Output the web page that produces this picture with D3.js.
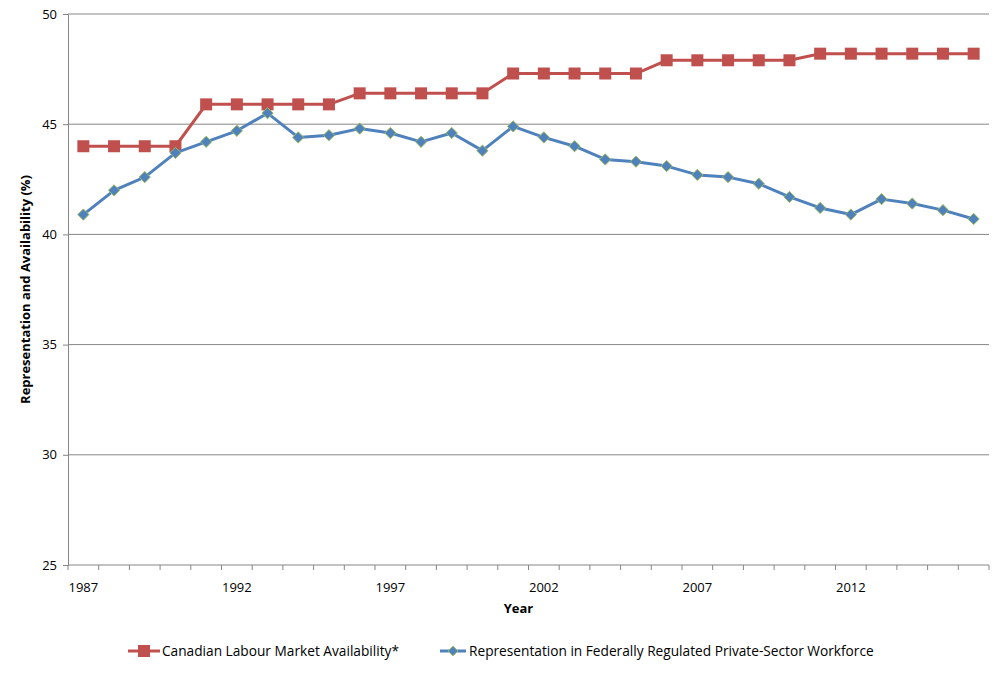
<!DOCTYPE html>
<html>
<head>
<meta charset="utf-8">
<script src="https://cdn.jsdelivr.net/npm/d3@7"></script>
<style>
  body { margin: 0; background: #fff; }
  text { font-family: "Open Sans", "Liberation Sans", sans-serif; fill: #000; }
</style>
</head>
<body>
<svg width="1005" height="673"></svg>
<script>
// data
const years = d3.range(1987, 2017)
const availability = [44.0, 44.0, 44.0, 44.0, 45.9, 45.9, 45.9, 45.9, 45.9, 46.4,
  46.4, 46.4, 46.4, 46.4, 47.3, 47.3, 47.3, 47.3, 47.3, 47.9,
  47.9, 47.9, 47.9, 47.9, 48.2, 48.2, 48.2, 48.2, 48.2, 48.2]
const representation = [40.9, 42.0, 42.6, 43.7, 44.2, 44.7, 45.5, 44.4, 44.5, 44.8,
  44.6, 44.2, 44.6, 43.8, 44.9, 44.4, 44.0, 43.4, 43.3, 43.1,
  42.7, 42.6, 42.3, 41.7, 41.2, 40.9, 41.6, 41.4, 41.1, 40.7]
const yTicks = [25, 30, 35, 40, 45, 50]
const xLabelYears = [1987, 1992, 1997, 2002, 2007, 2012]
const seriesNames = ["Canadian Labour Market Availability*", "Representation in Federally Regulated Private-Sector Workforce"]

let margin = { top: 14, left: 68, right: 16, bottom: 108 }
let width = 1005 - margin.left - margin.right
let height = 673 - margin.top - margin.bottom

let svg = d3.select("svg")
let g = svg.append("g").attr("transform", "translate(" + margin.left + "," + margin.top + ")")

let x = d3.scaleBand().domain(years).range([0, width])
let y = d3.scaleLinear().domain([25, 50]).range([height, 0])

// gridlines
g.selectAll(".grid").data(yTicks.filter(d => d > 25)).enter().append("line")
  .attr("x1", 0).attr("x2", width)
  .attr("y1", d => y(d)).attr("y2", d => y(d))
  .attr("stroke", "#868686").attr("stroke-width", 1)

// y axis
let yAxis = g.append("g")
  .call(d3.axisLeft(y).tickValues(yTicks).tickSize(5).tickPadding(6))
yAxis.select(".domain").attr("stroke", "#868686")
yAxis.selectAll(".tick line").attr("stroke", "#868686")
yAxis.selectAll("text").style("font-size", "13px")

// x axis: ticks sit between categories
let xAxis = g.append("g").attr("transform", "translate(0," + height + ")")
xAxis.append("line").attr("x1", 0).attr("x2", width).attr("stroke", "#868686")
xAxis.selectAll(".xt").data(d3.range(0, years.length + 1)).enter().append("line")
  .attr("x1", d => d * x.step()).attr("x2", d => d * x.step())
  .attr("y1", 0).attr("y2", 5).attr("stroke", "#868686")
xAxis.selectAll(".xl").data(xLabelYears).enter().append("text")
  .attr("x", d => x(d) + x.bandwidth() / 2)
  .attr("y", 27)
  .attr("text-anchor", "middle")
  .style("font-size", "13px")
  .text(d => d)

// axis titles
g.append("text")
  .attr("x", width / 2 - 10).attr("y", height + 48)
  .attr("text-anchor", "middle")
  .style("font-size", "13px").style("font-weight", "bold")
  .text("Year")
svg.append("text")
  .attr("transform", "translate(30," + (margin.top + height / 2) + ") rotate(-90)")
  .attr("text-anchor", "middle")
  .style("font-size", "13px").style("font-weight", "bold")
  .text("Representation and Availability (%)")

let cx = i => x(years[i]) + x.bandwidth() / 2
let line = d3.line().x((d, i) => cx(i)).y(d => y(d))

// red series
g.append("path").datum(availability)
  .attr("fill", "none").attr("stroke", "#C0504D").attr("stroke-width", 3)
  .attr("stroke-linejoin", "round").attr("d", line)
g.selectAll(".sq").data(availability).enter().append("rect")
  .attr("x", (d, i) => cx(i) - 6).attr("y", d => y(d) - 6)
  .attr("width", 12).attr("height", 12)
  .attr("fill", "#C0504D")

// blue series
g.append("path").datum(representation)
  .attr("fill", "none").attr("stroke", "#4F81BD").attr("stroke-width", 3)
  .attr("stroke-linejoin", "round").attr("d", line)
g.selectAll(".dm").data(representation).enter().append("path")
  .attr("d", d3.symbol(d3.symbolDiamond2, 80))
  .attr("transform", (d, i) => "translate(" + cx(i) + "," + y(d) + ")")
  .attr("fill", "#4F81BD").attr("stroke", "#9BBB59").attr("stroke-width", 1)

// legend
let leg = svg.append("g")
let l1 = leg.append("g").attr("transform", "translate(128,651)")
l1.append("line").attr("x1", 0).attr("x2", 32).attr("stroke", "#C0504D").attr("stroke-width", 3)
l1.append("rect").attr("x", 10).attr("y", -6).attr("width", 12).attr("height", 12).attr("fill", "#C0504D")
l1.append("text").attr("x", 34).attr("y", 5).style("font-size", "13.7px").text(seriesNames[0])

let l2 = leg.append("g").attr("transform", "translate(440,651)")
l2.append("line").attr("x1", 0).attr("x2", 26).attr("stroke", "#4F81BD").attr("stroke-width", 3)
l2.append("path").attr("d", d3.symbol(d3.symbolDiamond2, 60))
  .attr("transform", "translate(13,0)")
  .attr("fill", "#4F81BD").attr("stroke", "#9BBB59").attr("stroke-width", 1)
l2.append("text").attr("x", 29).attr("y", 5).style("font-size", "13.7px").text(seriesNames[1])
</script>
</body>
</html>
